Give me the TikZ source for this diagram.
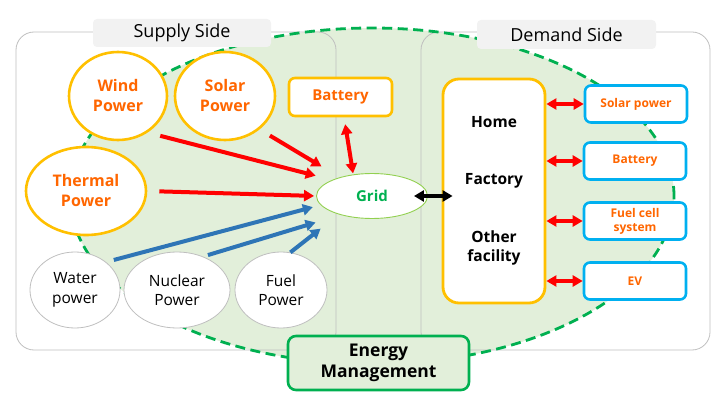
\documentclass[tikz,border=0pt]{standalone}
\usepackage{fontspec}
\setmainfont{Open Sans}
\usetikzlibrary{arrows.meta,shapes.geometric}

\definecolor{gold}{HTML}{FFC000}
\definecolor{orng}{HTML}{FF6600}
\definecolor{skyb}{HTML}{00B0F0}
\definecolor{emgreen}{HTML}{00B050}
\definecolor{lgreen}{HTML}{E2EFDA}
\definecolor{gridgreen}{HTML}{92D050}
\definecolor{panelgray}{HTML}{BFBFBF}
\definecolor{labelgray}{HTML}{F2F2F2}
\definecolor{arrowblue}{HTML}{2E75B6}
\definecolor{arrowred}{HTML}{FF0000}

\tikzset{
  panel/.style={draw=panelgray, line width=0.8pt, rounded corners=18pt},
  sidelbl/.style={fill=labelgray, rounded corners=4pt, inner sep=0pt,
    font=\fontsize{18}{22}\selectfont, text=black},
  supplynode/.style={ellipse, draw=gold, line width=2.6pt, fill=white, inner sep=0pt,
    align=center, text=orng, font=\fontsize{16}{20}\selectfont\bfseries},
  gennode/.style={ellipse, draw=panelgray, line width=0.8pt, fill=white, inner sep=0pt,
    align=center, text=black, font=\fontsize{15.5}{19.5}\selectfont},
  obox/.style={rectangle, rounded corners=6pt, draw=gold, line width=2.6pt, fill=white,
    inner sep=0pt, text=orng, font=\fontsize{15}{18}\selectfont\bfseries},
  gridnode/.style={ellipse, draw=gridgreen, line width=0.9pt, fill=white, inner sep=0pt,
    minimum width=111pt, minimum height=45pt, text=emgreen,
    font=\fontsize{15}{18}\selectfont\bfseries},
  bigbox/.style={rectangle, rounded corners=16pt, draw=gold, line width=2.8pt, fill=white,
    minimum width=102pt, minimum height=224pt, inner sep=0pt},
  factxt/.style={align=center, inner sep=0pt, text=black,
    font=\fontsize{15.5}{19.5}\selectfont\bfseries},
  bbox/.style={rectangle, rounded corners=6pt, draw=skyb, line width=2.6pt, fill=white,
    minimum width=102pt, minimum height=37pt, inner sep=0pt, align=center,
    text=orng, font=\fontsize{12}{14}\selectfont\bfseries},
  embox/.style={rectangle, rounded corners=8pt, draw=emgreen, line width=2.6pt, fill=lgreen,
    minimum width=181pt, minimum height=54pt, inner sep=0pt, align=center,
    text=black, font=\fontsize{17.5}{21}\selectfont\bfseries},
  redarr/.style={draw=arrowred, line width=4pt, -{Triangle[length=10pt,width=11pt]}},
  reddbl/.style={draw=arrowred, line width=4pt,
    {Triangle[length=10pt,width=11pt]}-{Triangle[length=10pt,width=11pt]}},
  bluearr/.style={draw=arrowblue, line width=4pt, -{Triangle[length=10pt,width=11pt]}},
  blkdbl/.style={draw=black, line width=3.5pt,
    {Triangle[length=10pt,width=11pt]}-{Triangle[length=10pt,width=11pt]}}
}

\begin{document}
\begin{tikzpicture}[x=1pt, y=-1pt]
\useasboundingbox (0,0) rectangle (720,406);

% background green ellipse area
\fill[lgreen] (372,196) ellipse [x radius=302pt, y radius=168pt];

% panels
\draw[panel] (16,32) rectangle (336,350);
\draw[panel] (421,32) rectangle (710,350);

% dashed management boundary
\draw[emgreen, line width=2.8pt, dash pattern=on 10pt off 5.5pt]
  (372,196) ellipse [x radius=302pt, y radius=168pt];

% side labels
\node[sidelbl, minimum width=178pt, minimum height=28pt] (supplylbl) at (182,33) {Supply Side};
\node[sidelbl, minimum width=179pt, minimum height=29pt] (demandlbl) at (566.5,34.5) {Demand Side};

% supply nodes
\node[supplynode, minimum width=98pt, minimum height=88pt] (wind) at (118,96) {Wind\\Power};
\node[supplynode, minimum width=100pt, minimum height=88pt] (solar) at (225,96) {Solar\\Power};
\node[supplynode, minimum width=120pt, minimum height=88pt] (thermal) at (86,191) {Thermal\\Power};
\node[gennode, minimum width=90pt, minimum height=76pt] (water) at (75,290) {Water\\power};
\node[gennode, minimum width=106pt, minimum height=76pt] (nuclear) at (177,290) {Nuclear\\Power};
\node[gennode, minimum width=92pt, minimum height=76pt] (fuel) at (281,290) {Fuel\\Power};
\node[obox, minimum width=103pt, minimum height=38pt] (sbatt) at (340.5,97) {Battery};

% grid
\node[gridnode] (grid) at (372,196) {Grid};

% demand side
\node[bigbox] (facility) at (494,191) {};
\node[factxt] (home) at (494,122) {Home};
\node[factxt] (factory) at (494,181) {Factory};
\node[factxt] (other) at (494,248) {Other\\facility};

\node[bbox] (rsolar) at (636,104) {Solar power};
\node[bbox] (rbatt) at (635,161) {Battery};
\node[bbox] (rfuel) at (635,221) {Fuel cell\\system};
\node[bbox] (rev) at (635,281) {EV};

% energy management
\node[embox] (em) at (378.5,363) {Energy\\Management};

% arrows to grid
\draw[redarr, shorten <=13pt, shorten >=17pt] (wind.-51) -- (grid.158);
\draw[redarr, shorten <=12pt, shorten >=21pt] (solar.-44) -- (grid.150);
\draw[redarr, shorten <=12pt, shorten >=2pt] (thermal.east) -- (grid.west);
\draw[reddbl, shorten <=7pt, shorten >=1pt] (sbatt.-80) -- (grid.131);
\draw[bluearr, shorten <=8pt, shorten >=8pt] (water.42) -- (grid.190);
\draw[bluearr, shorten <=5pt, shorten >=26pt] (nuclear.52) -- (grid.211);
\draw[bluearr, shorten >=23pt] (fuel.76) -- (grid.209);

% grid to facility
\draw[blkdbl, shorten <=-14pt, shorten >=-11pt] (grid.east) -- (grid.east -| facility.west);

% facility to demand devices
\draw[reddbl] (rsolar.west -| facility.east) -- (rsolar.west);
\draw[reddbl] (rbatt.west -| facility.east) -- (rbatt.west);
\draw[reddbl] (rfuel.west -| facility.east) -- (rfuel.west);
\draw[reddbl] (rev.west -| facility.east) -- (rev.west);
\end{tikzpicture}
\end{document}
